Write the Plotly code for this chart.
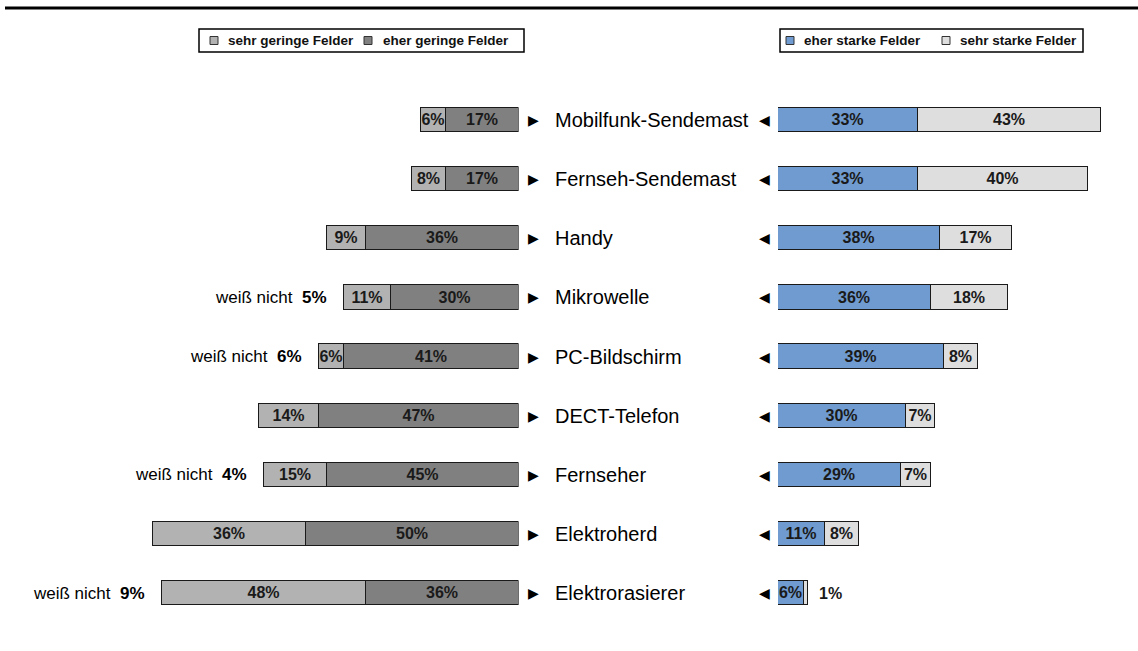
import plotly.graph_objects as go

categories = ["Mobilfunk-Sendemast", "Fernseh-Sendemast", "Handy", "Mikrowelle",
              "PC-Bildschirm", "DECT-Telefon", "Fernseher", "Elektroherd", "Elektrorasierer"]
sehr_gering = [6, 8, 9, 11, 6, 14, 15, 36, 48]
eher_gering = [17, 17, 36, 30, 41, 47, 45, 50, 36]
eher_stark = [33, 33, 38, 36, 39, 30, 29, 11, 6]
sehr_stark = [43, 40, 17, 18, 8, 7, 7, 8, 1]
weiss_nicht = [None, None, None, 5, 6, None, 4, None, 9]

names_left = ["sehr geringe Felder", "eher geringe Felder"]
names_right = ["eher starke Felder", "sehr starke Felder"]

C_SG = "#b2b2b2"
C_EG = "#808080"
C_ES = "#6f9bd0"
C_SS = "#dedede"
OUTLINE = "#1a1a1a"
FONT = "Liberation Sans, Arial, sans-serif"

W, H = 1138, 651
ypos = list(range(len(categories)))
BAR_W = 0.41


def px_x(p):
    return p / W


def px_y(p):
    return 1 - p / H


def labels(vals):
    return [f"{v}%" if v >= 3 else "" for v in vals]


fig = go.Figure()

common = dict(orientation="h", width=BAR_W, textposition="inside",
              insidetextanchor="middle", constraintext="none", textangle=0,
              textfont=dict(family=FONT, size=16, color="#1a1a1a", weight="bold"),
              showlegend=False, hoverinfo="skip")

# left side (reversed axis): inner segment first
fig.add_trace(go.Bar(y=ypos, x=eher_gering, text=labels(eher_gering), xaxis="x", yaxis="y",
                     marker=dict(color=C_EG, line=dict(color=OUTLINE, width=1)), **common))
fig.add_trace(go.Bar(y=ypos, x=sehr_gering, text=labels(sehr_gering), xaxis="x", yaxis="y",
                     marker=dict(color=C_SG, line=dict(color=OUTLINE, width=1)), **common))
# right side
fig.add_trace(go.Bar(y=ypos, x=eher_stark, text=labels(eher_stark), xaxis="x2", yaxis="y",
                     marker=dict(color=C_ES, line=dict(color=OUTLINE, width=1)), **common))
fig.add_trace(go.Bar(y=ypos, x=sehr_stark, text=labels(sehr_stark), xaxis="x2", yaxis="y",
                     marker=dict(color=C_SS, line=dict(color=OUTLINE, width=1)), **common))

# geometry (pixels)
left_end = 518.5
right_start = 778.0
px_per_pct = 4.25
row0_px, row_step = 120.0, 59.125

left_range = left_end / px_per_pct
right_range = (W - right_start) / px_per_pct
y_top = -row0_px / row_step
y_bot = (H - row0_px) / row_step

annotations = []
shapes = []
for i, cat in enumerate(categories):
    annotations.append(dict(xref="paper", yref="y", x=px_x(553), y=i, text=cat,
                            xanchor="left", yanchor="middle", showarrow=False,
                            font=dict(family=FONT, size=20, color="#000000")))
    annotations.append(dict(xref="paper", yref="y", x=px_x(533), y=i, text="▶",
                            xanchor="center", yanchor="middle", showarrow=False,
                            font=dict(family="DejaVu Sans", size=14, color="#000000")))
    annotations.append(dict(xref="paper", yref="y", x=px_x(764), y=i, text="◀",
                            xanchor="center", yanchor="middle", showarrow=False,
                            font=dict(family="DejaVu Sans", size=14, color="#000000")))
    wn = weiss_nicht[i]
    if wn is not None:
        annotations.append(dict(xref="x", yref="y", x=sehr_gering[i] + eher_gering[i], y=i,
                                text=f"weiß nicht&nbsp;&nbsp;<b>{wn}%</b>",
                                xanchor="right", yanchor="middle", showarrow=False, xshift=-15,
                                font=dict(family=FONT, size=17, color="#000000")))
    if sehr_stark[i] < 3:
        annotations.append(dict(xref="x2", yref="y", x=eher_stark[i] + sehr_stark[i], y=i,
                                text=f"<b>{sehr_stark[i]}%</b>", xanchor="left",
                                yanchor="middle", showarrow=False, xshift=9,
                                font=dict(family=FONT, size=16, color="#1a1a1a")))


# manual legends: (box x0, box x1, [(square centre x, text x)], names, colours)
def add_legend(bx0, bx1, items, names, colors):
    by0, by1 = 29, 52
    cy = (by0 + by1) / 2
    shapes.append(dict(type="rect", xref="paper", yref="paper",
                       x0=px_x(bx0), x1=px_x(bx1), y0=px_y(by1), y1=px_y(by0),
                       line=dict(color="#000000", width=1.5), fillcolor="white", layer="below"))
    for (sqx, tx), name, col in zip(items, names, colors):
        shapes.append(dict(type="rect", xref="paper", yref="paper",
                           x0=px_x(sqx - 4), x1=px_x(sqx + 4), y0=px_y(cy + 4), y1=px_y(cy - 4),
                           line=dict(color="#333333", width=1), fillcolor=col))
        annotations.append(dict(xref="paper", yref="paper", x=px_x(tx), y=px_y(cy),
                                text=f"<b>{name}</b>", xanchor="left", yanchor="middle",
                                showarrow=False,
                                font=dict(family=FONT, size=13.5, color="#111111")))


add_legend(199, 524, [(214, 226), (368, 381)], names_left, [C_SG, C_EG])
add_legend(780, 1083, [(790, 802), (946, 958)], names_right, [C_ES, C_SS])

shapes.append(dict(type="line", xref="paper", yref="paper", x0=px_x(5), x1=1,
                   y0=px_y(8), y1=px_y(8), line=dict(color="#000000", width=3)))

fig.update_layout(
    width=W, height=H, margin=dict(l=0, r=0, t=0, b=0),
    paper_bgcolor="white", plot_bgcolor="white",
    barmode="stack", bargap=0,
    xaxis=dict(domain=[0, left_end / W], range=[left_range, 0], visible=False, fixedrange=True),
    xaxis2=dict(domain=[right_start / W, 1], range=[0, right_range], visible=False,
                anchor="y", fixedrange=True),
    yaxis=dict(domain=[0, 1], range=[y_bot, y_top], visible=False, fixedrange=True),
    annotations=annotations,
    shapes=shapes,
    showlegend=False,
)

fig.write_html("out.html", config={"displayModeBar": False},
               post_script="document.body.style.margin='0';")
